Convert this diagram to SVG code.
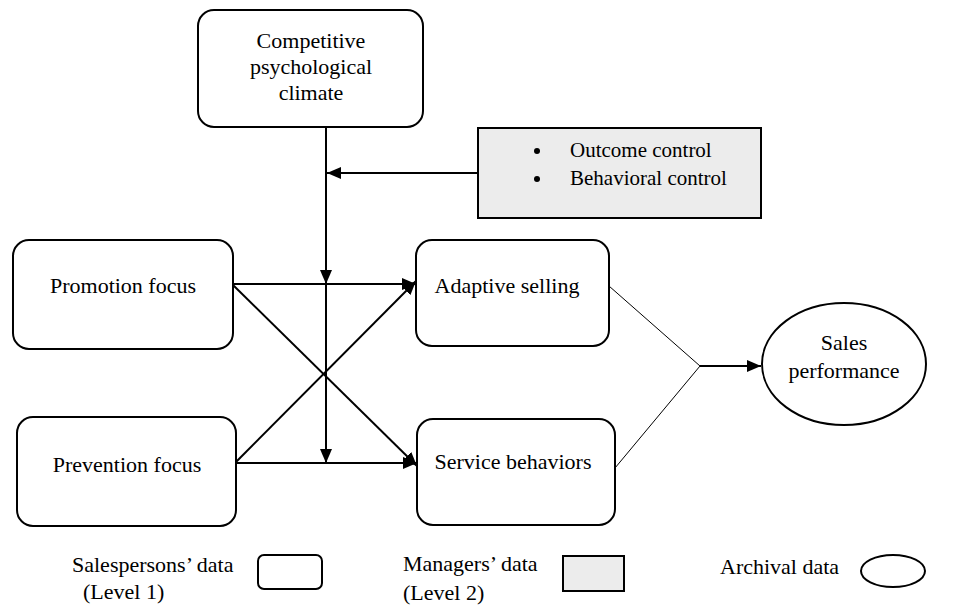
<svg xmlns="http://www.w3.org/2000/svg" width="976" height="605" viewBox="0 0 976 605">
<style>
text{font-family:"Liberation Serif","Times New Roman",serif;font-size:22px;fill:#000}
.c{text-anchor:middle}
.s21{font-size:21px}
.box{fill:#fff;stroke:#000;stroke-width:2}
.gray{fill:#ececec;stroke:#000;stroke-width:2}
.ln{stroke:#000;stroke-width:2;fill:none}
.thin{stroke:#000;stroke-width:1;fill:none}
</style>
<defs>
<marker id="ah" markerUnits="userSpaceOnUse" markerWidth="14" markerHeight="12" viewBox="0 0 14 12" refX="14" refY="6" orient="auto">
<path d="M0,0 L14,6 L0,12 Z" fill="#000"/>
</marker>
</defs>
<g id="connectors">
<line class="ln" x1="326" y1="127" x2="326" y2="284" marker-end="url(#ah)"/>
<line class="ln" x1="326" y1="284" x2="326" y2="463" marker-end="url(#ah)"/>
<line class="ln" x1="478" y1="173" x2="327" y2="173" marker-end="url(#ah)"/>
<line class="ln" x1="233" y1="284" x2="416" y2="284" marker-end="url(#ah)"/>
<line class="ln" x1="236" y1="463" x2="417" y2="463" marker-end="url(#ah)"/>
<line class="ln" x1="233" y1="285" x2="417" y2="466" marker-end="url(#ah)"/>
<line class="ln" x1="236" y1="462" x2="416" y2="281" marker-end="url(#ah)"/>
<line class="thin" x1="609" y1="286" x2="700" y2="366"/>
<line class="thin" x1="615" y1="468" x2="700" y2="366"/>
<line class="ln" x1="700" y1="366" x2="761" y2="366" marker-end="url(#ah)"/>
</g>
<g id="climate">
<rect class="box" x="198" y="10" width="225" height="117" rx="16"/>
<text class="c" x="311" y="48">Competitive</text>
<text class="c" x="311" y="74">psychological</text>
<text class="c" x="311" y="100">climate</text>
</g>
<g id="control">
<rect class="gray" x="478" y="128" width="283" height="90"/>
<circle cx="537" cy="151" r="3"/>
<circle cx="537" cy="179" r="3"/>
<text class="s21" x="570" y="157">Outcome control</text>
<text class="s21" x="570" y="185">Behavioral control</text>
</g>
<g id="promotion">
<rect class="box" x="13" y="240" width="220" height="109" rx="16"/>
<text class="c" x="123" y="293">Promotion focus</text>
</g>
<g id="prevention">
<rect class="box" x="17" y="417" width="219" height="109" rx="16"/>
<text class="c" x="127" y="472">Prevention focus</text>
</g>
<g id="adaptive">
<rect class="box" x="416" y="240" width="193" height="106" rx="16"/>
<text class="c" x="507" y="293">Adaptive selling</text>
</g>
<g id="service">
<rect class="box" x="417" y="419" width="198" height="106" rx="16"/>
<text class="c" x="513" y="469">Service behaviors</text>
</g>
<g id="sales">
<ellipse class="box" cx="844" cy="364" rx="82" ry="61"/>
<text class="c" x="844" y="350">Sales</text>
<text class="c" x="844" y="378">performance</text>
</g>
<g id="legend">
<text x="72" y="572">Salespersons’ data</text>
<text x="83" y="599">(Level 1)</text>
<rect class="box" x="258" y="555" width="64" height="34" rx="6"/>
<text x="403" y="571">Managers’ data</text>
<text x="403" y="600">(Level 2)</text>
<rect class="gray" x="563" y="556" width="61" height="35"/>
<text x="720" y="574">Archival data</text>
<ellipse class="box" cx="893" cy="571" rx="32" ry="16"/>
</g>
</svg>
